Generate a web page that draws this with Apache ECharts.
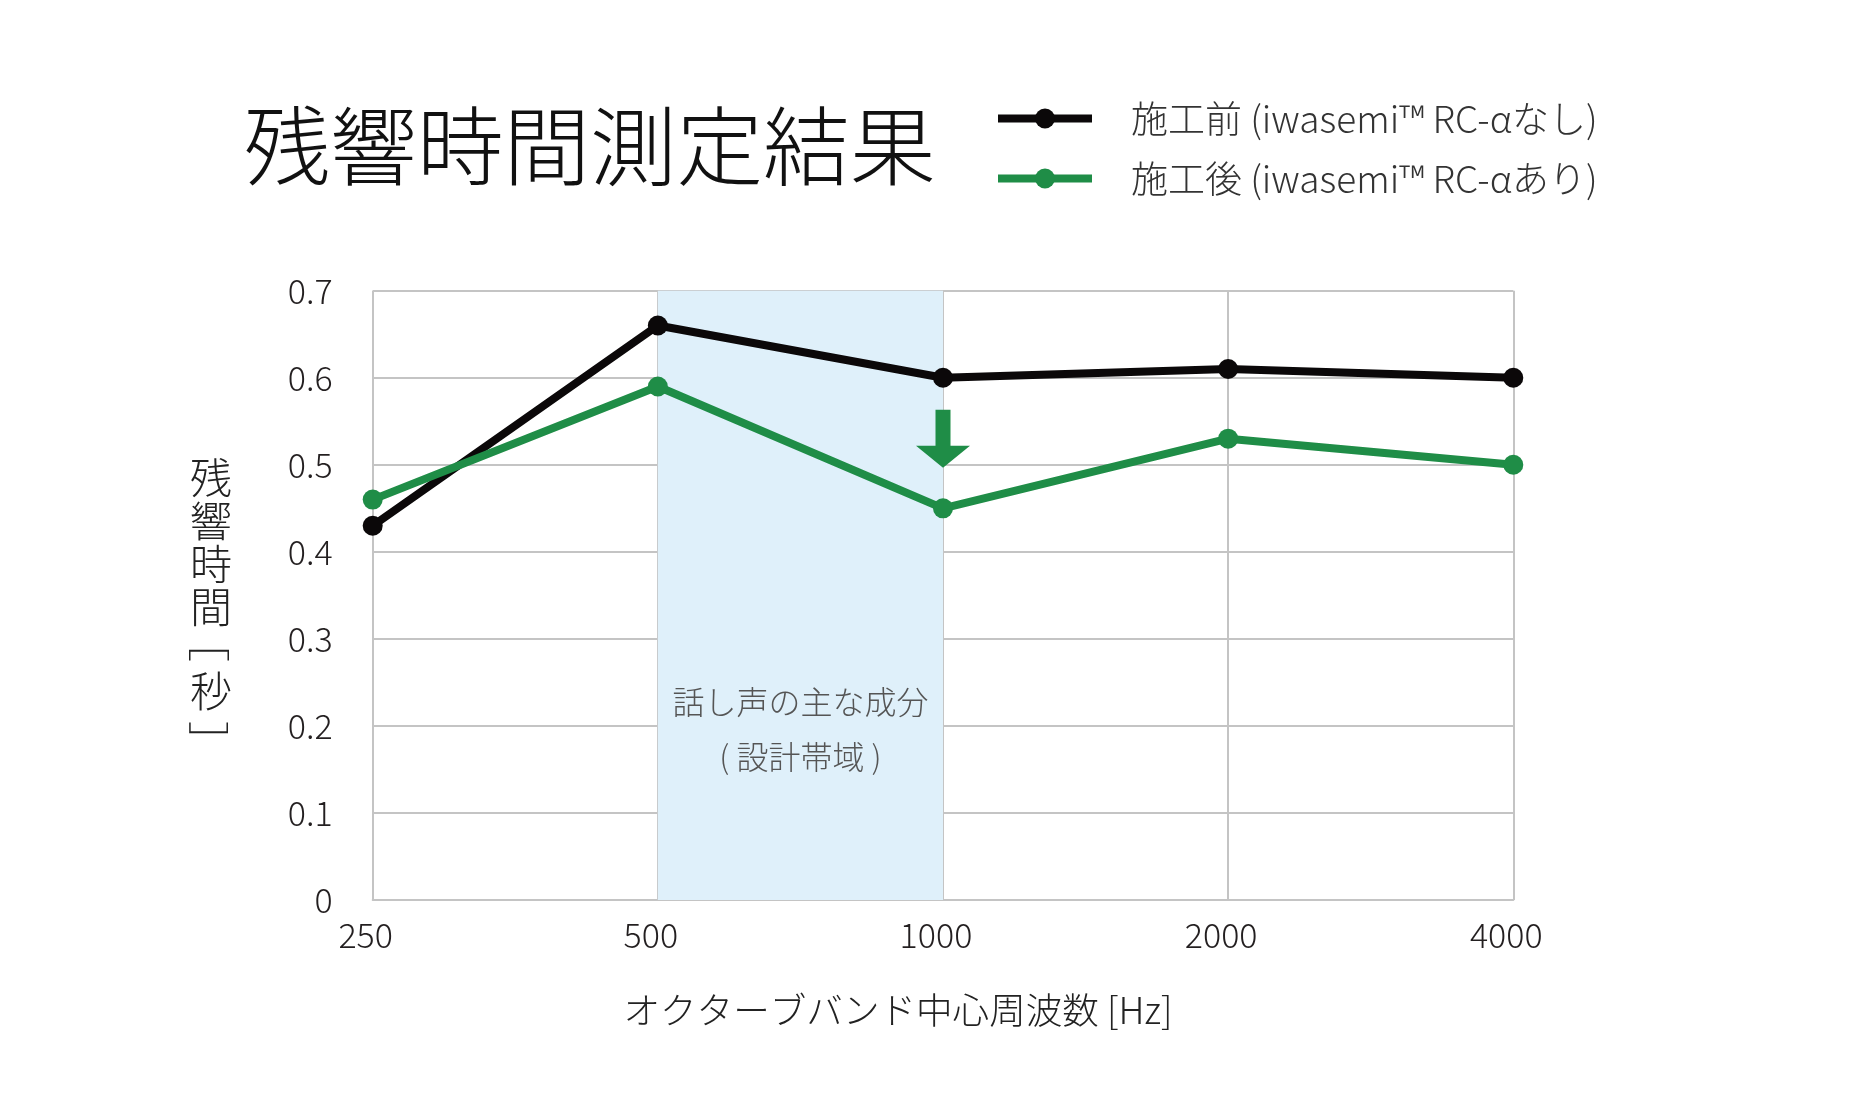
<!DOCTYPE html>
<html><head><meta charset="utf-8">
<script src="https://cdn.jsdelivr.net/npm/echarts@6/dist/echarts.min.js"></script>
<style>html,body{margin:0;padding:0;background:#fff}#c{width:1853px;height:1120px}</style>
</head><body><div id="c"></div>
<script>
const categories = ['250', '500', '1000', '2000', '4000'];
const beforeValues = [0.43, 0.66, 0.60, 0.61, 0.60];
const afterValues = [0.46, 0.59, 0.45, 0.53, 0.50];
const yMin = 0, yMax = 0.7, yStep = 0.1;
const seriesNames = ['施工前 (iwasemi™ RC-αなし)', '施工後 (iwasemi™ RC-αあり)'];
const titleText = '残響時間測定結果';
const yNameMain = ['残', '響', '時', '間'];
const yNameUnit = ['［', '秒', '］'];
const xName = 'オクターブバンド中心周波数 [Hz]';
const bandRange = ['500', '1000'];
const bandLabel = ['話し声の主な成分', '( 設計帯域 )'];
const arrowAt = ['1000', 0.53];

const FONT = "'Noto Sans CJK JP Light', 'Noto Sans CJK JP', 'Noto Sans', sans-serif";
const BLACK = '#0b0809';
const GREEN = '#1f8d47';
const GRID = '#c4c4c4';

const chart = echarts.init(document.getElementById('c'), null, {renderer: 'canvas'});
const yNameStyle = {fontFamily: FONT, fontSize: 42, fontWeight: 300, fill: '#222', align: 'center', verticalAlign: 'middle'};
chart.setOption({
  backgroundColor: '#fff',
  animation: false,
  textStyle: {fontFamily: FONT, fontWeight: 300},
  title: {
    text: titleText, left: 244, top: 102, padding: 0,
    textStyle: {fontFamily: FONT, fontSize: 86.5, fontWeight: 300, color: '#111', lineHeight: 88}
  },
  legend: {
    orient: 'vertical', left: 994, top: 100, itemWidth: 94, itemHeight: 25, itemGap: 23,
    padding: 0,
    lineStyle: {width: 8},
    textStyle: {fontFamily: FONT, fontSize: 37, fontWeight: 300, color: '#333', lineHeight: 36, padding: [0, 0, 0, 34]},
    data: seriesNames
  },
  grid: {left: 372.7, right: 339.7, top: 290.7, bottom: 220},
  xAxis: {
    type: 'category', data: categories, boundaryGap: false,
    axisLine: {lineStyle: {color: GRID, width: 2}},
    axisTick: {show: false},
    axisLabel: {fontFamily: FONT, fontSize: 34, fontWeight: 300, color: '#231f20', margin: 18, padding: [0, 14, 0, 0]},
    splitLine: {show: true, lineStyle: {color: GRID, width: 2}}
  },
  yAxis: {
    type: 'value', min: yMin, max: yMax, interval: yStep,
    axisLine: {show: false}, axisTick: {show: false},
    axisLabel: {fontFamily: FONT, fontSize: 34, fontWeight: 300, color: '#231f20', margin: 40,
      formatter: v => v === 0 ? '0' : v.toFixed(1)},
    splitLine: {lineStyle: {color: GRID, width: 2}}
  },
  graphic: [
    {type: 'text', x: 211, y: 543, style: Object.assign({text: yNameMain.join('\n'), lineHeight: 43}, yNameStyle)},
    {type: 'text', x: 209, y: 641, rotation: -Math.PI / 2, style: Object.assign({text: yNameUnit[0]}, yNameStyle)},
    {type: 'text', x: 211, y: 691, style: Object.assign({text: yNameUnit[1]}, yNameStyle)},
    {type: 'text', x: 209, y: 742, rotation: -Math.PI / 2, style: Object.assign({text: yNameUnit[2]}, yNameStyle)},
    {type: 'text', x: 898, y: 1010, style: {
      text: xName, fontFamily: FONT, fontSize: 36.6, fontWeight: 300,
      fill: '#222', align: 'center', verticalAlign: 'middle'}}
  ],
  series: [
    {
      name: seriesNames[0], type: 'line', data: beforeValues,
      symbol: 'circle', symbolSize: 20, z: 3,
      lineStyle: {color: BLACK, width: 8}, itemStyle: {color: BLACK},
      markArea: {
        silent: true, z: 1,
        itemStyle: {color: '#dff0fa'},
        label: {show: true, position: ['50%', '72%'], align: 'center', verticalAlign: 'middle',
          formatter: bandLabel.join('\n'),
          fontFamily: FONT, fontSize: 32, fontWeight: 300, color: '#555', lineHeight: 55},
        data: [[{xAxis: bandRange[0]}, {xAxis: bandRange[1]}]]
      }
    },
    {
      name: seriesNames[1], type: 'line', data: afterValues,
      symbol: 'circle', symbolSize: 20, z: 4,
      lineStyle: {color: GREEN, width: 8}, itemStyle: {color: GREEN},
      markPoint: {
        silent: true,
        symbol: 'path://M19.5,0 L34.5,0 L34.5,36 L54,36 L27,58 L0,36 L19.5,36 Z',
        symbolSize: [54, 58], symbolKeepAspect: false,
        itemStyle: {color: GREEN},
        label: {show: false},
        data: [{coord: arrowAt}]
      }
    }
  ]
});
</script></body></html>
